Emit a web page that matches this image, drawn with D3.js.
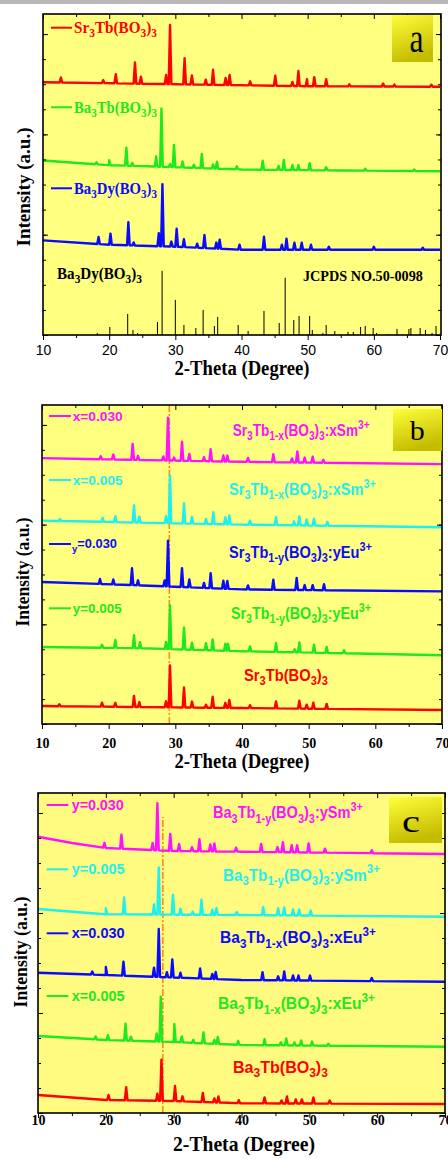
<!DOCTYPE html>
<html>
<head>
<meta charset="utf-8">
<script src="https://cdn.jsdelivr.net/npm/d3@7/dist/d3.min.js"></script>
<style>
  body { margin: 0; background: #fff; }
  svg { display: block; }
</style>
</head>
<body>
<svg id="chart" width="448" height="1159"></svg>
<script>
// ---------------- data (2-theta in degrees, intensity in a.u.) ----------------
const majorTicks = [10, 20, 30, 40, 50, 60, 70];
const minorTicks = [15, 25, 35, 45, 55, 65];
const yDomain = [0, 3200];

// panel a
const aSrTbBg = [[10, 2520], [30, 2500], [50, 2480], [70, 2475]];
const aSrTbPeaks = [[12.7, 50], [19.1, 30], [21.0, 90], [23.9, 210], [24.8, 70], [28.6, 90], [29.2, 590], [31.4, 260],
  [32.5, 90], [34.6, 50], [35.7, 150], [37.6, 70], [38.2, 100], [41.3, 40], [45.1, 100], [47.7, 40], [48.6, 150],
  [49.9, 70], [51.0, 90], [52.8, 70], [56.3, 20], [61.4, 30], [63.1, 20], [68.7, 20]];
const aBaTbBg = [[10, 1740], [20, 1693], [30, 1673], [40, 1650], [55, 1640], [70, 1633]];
const aBaTbPeaks = [[18.1, 20], [20.0, 50], [22.6, 180], [23.5, 30], [27.1, 100], [27.9, 580], [29.2, 30], [29.8, 220],
  [31.1, 60], [32.8, 30], [34.0, 140], [35.7, 40], [36.3, 70], [39.3, 30], [43.2, 90], [45.6, 40], [46.4, 100],
  [47.7, 50], [48.6, 50], [50.3, 70], [52.8, 30], [58.7, 20], [66.1, 15]];
const aBaDyBg = [[10, 943], [20, 900], [30, 880], [40, 850], [70, 850]];
const aBaDyPeaks = [[18.4, 70], [20.2, 110], [22.9, 230], [23.7, 30], [27.5, 130], [28.05, 620], [29.4, 50], [30.2, 180],
  [31.3, 80], [33.3, 40], [34.4, 130], [36.2, 60], [36.7, 90], [39.7, 50], [43.4, 130], [46.1, 50], [46.8, 110],
  [48.0, 70], [49.1, 70], [50.5, 50], [53.2, 30], [60.0, 30], [67.4, 20]];
const jcpdsSticks = [[18.2, 20], [20.1, 80], [22.8, 210], [23.6, 50], [24.3, 20], [27.3, 130], [28.0, 640], [30.0, 350],
  [31.3, 100], [33.1, 70], [34.2, 250], [35.9, 90], [36.4, 180], [39.5, 100], [41.0, 40], [43.4, 240], [45.7, 120],
  [46.6, 570], [47.9, 150], [48.7, 190], [50.3, 190], [50.7, 50], [52.3, 20], [52.8, 100], [54.1, 40], [56.1, 30],
  [56.9, 30], [58.0, 80], [58.7, 90], [59.9, 70], [60.4, 20], [62.2, 10], [63.5, 60], [65.3, 60], [65.6, 70],
  [67.0, 70], [67.8, 50], [68.8, 20], [69.4, 90]];

// panel b
const bSm030Bg = [[10, 2667], [40, 2630], [70, 2607]];
const bSm030Peaks = [[18.8, 30], [20.7, 50], [23.6, 160], [24.4, 40], [28.2, 40], [28.9, 430], [29.8, 30], [31.0, 190],
  [32.1, 70], [34.3, 40], [35.3, 120], [37.2, 60], [37.8, 60], [40.9, 40], [44.7, 80], [47.5, 40], [48.3, 110],
  [49.4, 50], [50.6, 60], [52.2, 30]];
const bSm005Bg = [[10, 2040], [40, 2000], [70, 1973]];
const bSm005Peaks = [[12.7, 20], [19.1, 40], [21.0, 60], [23.8, 170], [24.6, 60], [28.6, 70], [29.2, 480], [31.3, 200],
  [32.5, 70], [34.6, 50], [35.7, 120], [37.5, 70], [38.1, 90], [41.2, 40], [45.1, 80], [47.8, 40], [48.6, 90],
  [49.7, 60], [50.8, 70], [52.8, 40]];
const bEu030Bg = [[10, 1425], [25, 1390], [40, 1350], [70, 1330]];
const bEu030Peaks = [[18.7, 50], [20.7, 50], [23.5, 170], [24.4, 50], [28.4, 60], [28.9, 460], [31.0, 190], [32.1, 80],
  [34.3, 50], [35.3, 150], [37.2, 80], [37.8, 80], [40.9, 40], [44.7, 100], [48.2, 120], [49.4, 50], [50.6, 50],
  [52.3, 60]];
const bEu005Bg = [[10, 773], [25, 760], [40, 730], [70, 690]];
const bEu005Peaks = [[19.0, 30], [21.0, 80], [23.8, 130], [24.7, 60], [28.6, 70], [29.2, 440], [31.3, 220], [32.5, 70],
  [34.6, 70], [35.6, 110], [37.5, 70], [37.9, 70], [41.2, 50], [45.1, 90], [47.9, 30], [48.6, 100], [50.8, 80],
  [52.7, 60], [55.3, 30]];
const bHostBg = [[10, 180], [40, 160], [70, 140]];
const bHostPeaks = [[12.6, 20], [19.0, 40], [21.0, 40], [23.8, 110], [24.6, 50], [28.6, 60], [29.2, 420], [31.3, 200],
  [32.5, 60], [34.6, 30], [35.6, 110], [37.5, 50], [38.1, 80], [41.2, 30], [45.1, 70], [48.6, 80], [49.7, 40],
  [50.7, 60], [52.7, 50]];
const bRefLine = [[29.1, 0], [29.1, 3200]];

// panel c
const cSm030Bg = [[10, 2763], [15, 2700], [20, 2650], [30, 2620], [40, 2613], [70, 2590]];
const cSm030Peaks = [[19.8, 50], [22.3, 140], [26.9, 70], [27.6, 470], [29.5, 170], [30.8, 70], [32.7, 40], [33.8, 120],
  [35.4, 70], [36.0, 80], [39.2, 40], [42.9, 80], [45.3, 50], [46.1, 100], [47.4, 70], [48.2, 70], [49.9, 90],
  [52.3, 40], [59.2, 30]];
const cSm005Bg = [[10, 2040], [20, 1987], [40, 1980], [70, 1963]];
const cSm005Peaks = [[20.0, 60], [22.7, 170], [27.1, 100], [27.8, 470], [29.9, 200], [31.0, 60], [32.8, 30], [34.1, 150],
  [35.7, 50], [36.3, 70], [39.3, 30], [43.2, 80], [45.4, 70], [46.3, 80], [47.6, 60], [48.5, 60], [50.2, 50]];
const cEu030Bg = [[10, 1403], [20, 1380], [40, 1330], [70, 1313]];
const cEu030Peaks = [[18.0, 30], [20.0, 80], [22.6, 140], [27.1, 90], [27.8, 480], [29.0, 50], [29.8, 180], [31.0, 50],
  [33.9, 100], [35.7, 50], [36.2, 70], [43.1, 80], [45.4, 40], [46.3, 90], [47.6, 50], [48.4, 50], [50.1, 50],
  [59.2, 30]];
const cEu005Bg = [[10, 770], [20, 730], [30, 710], [40, 680], [70, 663]];
const cEu005Peaks = [[18.5, 30], [20.3, 50], [22.9, 170], [23.7, 40], [27.5, 80], [28.1, 450], [30.1, 180], [31.2, 60],
  [32.9, 30], [34.4, 110], [36.0, 40], [36.5, 70], [39.5, 40], [43.4, 60], [45.8, 30], [46.6, 70], [47.8, 30],
  [48.8, 50], [50.4, 40], [52.8, 20]];
const cHostBg = [[10, 180], [20, 130], [30, 120], [40, 97], [70, 90]];
const cHostPeaks = [[20.4, 50], [23.0, 130], [27.6, 70], [28.2, 410], [30.2, 150], [31.3, 50], [34.3, 90], [36.0, 40],
  [36.6, 60], [39.6, 30], [43.4, 60], [45.9, 30], [46.7, 70], [48.0, 40], [48.9, 40], [50.6, 60], [53.0, 30]];
const cRefLine = [[28.4, 0], [28.4, 2960]];

// ---------------- styles ----------------
const RED = '#ff0000', GREEN = '#1ee81e', BLUE = '#0a0aff', MAGENTA = '#ff10ff', CYAN = '#1ef0f0';
const SERIF = '"Liberation Serif", "Times New Roman", serif';
const SANS = '"Liberation Sans", Arial, sans-serif';
const PANEL_FILL = '#ffff80';

/**
 * Squeeze a text horizontally so that it is `len` px wide (the figure is narrowed)
 */
function fitWidth(text, x, y, len, rotate) {
    text.attr('x', 0).attr('y', 0);
    const natural = text.node().getComputedTextLength() || len;
    const sx = len / natural;
    text.attr('transform', `translate(${x},${y})${rotate ? ' rotate(' + rotate + ')' : ''} scale(${sx},1)`);
    return text;
}

/**
 * Append tspans for markup like "Sr_3Tb_{1-x}(BO_3)_3:xSm^{3+}"
 */
function addRichText(sel, markup, size) {
    const re = /([_^])(?:\{([^}]*)\}|(.))|([^_^]+)/g;
    let m, shift = 0;
    while ((m = re.exec(markup))) {
        if (m[4]) {
            sel.append('tspan').attr('dy', -shift).text(m[4]);
            shift = 0;
        } else {
            const s = m[1] === '_' ? size * 0.28 : -size * 0.42;
            sel.append('tspan').attr('dy', s - shift).attr('font-size', size * 0.75).text(m[2] ?? m[3]);
            shift = s;
        }
    }
}

/**
 * XrdPanel - draws one stacked XRD pattern panel
 */
class XrdPanel {
    constructor(svg, cfg) {
        this.svg = svg;
        this.cfg = cfg;
        this.g = svg.append('g').attr('class', 'panel-' + cfg.id);
        this.x = d3.scaleLinear().domain([10, 70]).range([cfg.left, cfg.right]);
        this.y = d3.scaleLinear().domain(yDomain).range([cfg.bottom, cfg.top]);
    }

    draw() {
        this.drawFrame();
        this.drawSticks();
        this.drawRefLine();
        this.drawTraces();
        this.drawAxes();
        this.drawLegend();
        this.drawTitles();
        this.drawBadge();
    }

    drawFrame() {
        const c = this.cfg;
        this.g.append('rect')
            .attr('x', c.left).attr('y', c.top)
            .attr('width', c.frameRight - c.left).attr('height', c.bottom - c.top)
            .attr('fill', c.fill || PANEL_FILL);
    }

    /**
     * Background level under a peak (straight between the listed background points)
     */
    bgAt(bg, t) {
        for (let i = 1; i < bg.length; i++) {
            if (t <= bg[i][0]) {
                const [t0, v0] = bg[i - 1], [t1, v1] = bg[i];
                return v0 + (v1 - v0) * (t - t0) / (t1 - t0);
            }
        }
        return bg[bg.length - 1][1];
    }

    tracePoints(s) {
        const w = 0.2;
        const pts = s.bg.slice();
        s.peaks.forEach(([t, h]) => {
            pts.push([t - w, this.bgAt(s.bg, t - w)]);
            pts.push([t, this.bgAt(s.bg, t) + h]);
            pts.push([t + w, this.bgAt(s.bg, t + w)]);
        });
        return pts.sort((a, b) => a[0] - b[0]);
    }

    drawTraces() {
        const line = d3.line().x(d => this.x(d[0])).y(d => this.y(d[1]));
        this.g.append('g').attr('class', 'traces')
            .selectAll('path')
            .data(this.cfg.series)
            .join('path')
            .attr('d', s => line(this.tracePoints(s)))
            .attr('fill', 'none')
            .attr('stroke', s => s.color)
            .attr('stroke-width', 2.4)
            .attr('stroke-linejoin', 'round');
    }

    drawSticks() {
        if (!this.cfg.sticks) return;
        this.g.append('g').attr('class', 'sticks')
            .selectAll('line')
            .data(this.cfg.sticks)
            .join('line')
            .attr('x1', d => this.x(d[0])).attr('x2', d => this.x(d[0]))
            .attr('y1', this.y(0)).attr('y2', d => this.y(d[1]))
            .attr('stroke', '#000').attr('stroke-width', 1);
    }

    drawRefLine() {
        if (!this.cfg.refLine) return;
        this.g.append('path')
            .attr('d', d3.line().x(d => this.x(d[0])).y(d => this.y(d[1]))(this.cfg.refLine))
            .attr('stroke', '#ff8c1a').attr('stroke-width', 1.6)
            .attr('stroke-dasharray', '7,2,2,2').attr('fill', 'none');
    }

    drawAxes() {
        const c = this.cfg;
        const ax = this.g.append('g').attr('class', 'axes');
        const yMinor = d3.range(0, 3201, 250);
        const yMajor = d3.range(0, 3201, 1000);
        const clean = sel => sel.call(s => s.select('.domain').remove())
            .selectAll('line').attr('stroke', '#000');

        const bottom = ax.append('g').attr('transform', `translate(0,${c.bottom})`)
            .call(d3.axisBottom(this.x).tickValues(majorTicks).tickSize(5).tickFormat(d3.format('d')));
        clean(bottom);
        bottom.selectAll('text')
            .attr('y', c.labelOffset).attr('dy', 0)
            .attr('font-family', c.tickFont === 'sans' ? SANS : SERIF)
            .attr('font-weight', c.tickFont === 'sans' ? 'normal' : 'bold')
            .attr('font-size', 14).attr('fill', '#000');
        clean(ax.append('g').attr('transform', `translate(0,${c.bottom})`)
            .call(d3.axisBottom(this.x).tickValues(minorTicks).tickSize(3).tickFormat('')));

        clean(ax.append('g').attr('transform', `translate(0,${c.top})`)
            .call(d3.axisTop(this.x).tickValues(majorTicks).tickSize(-5).tickFormat('')));
        clean(ax.append('g').attr('transform', `translate(0,${c.top})`)
            .call(d3.axisTop(this.x).tickValues(minorTicks).tickSize(-3).tickFormat('')));

        clean(ax.append('g').attr('transform', `translate(${c.left},0)`)
            .call(d3.axisLeft(this.y).tickValues(yMinor).tickSize(-3).tickFormat('')));
        clean(ax.append('g').attr('transform', `translate(${c.left},0)`)
            .call(d3.axisLeft(this.y).tickValues(yMajor).tickSize(-5).tickFormat('')));
        clean(ax.append('g').attr('transform', `translate(${c.frameRight},0)`)
            .call(d3.axisRight(this.y).tickValues(yMinor).tickSize(-3).tickFormat('')));
        clean(ax.append('g').attr('transform', `translate(${c.frameRight},0)`)
            .call(d3.axisRight(this.y).tickValues(yMajor).tickSize(-5).tickFormat('')));

        ax.append('rect')
            .attr('x', c.left).attr('y', c.top)
            .attr('width', c.frameRight - c.left).attr('height', c.bottom - c.top)
            .attr('fill', 'none').attr('stroke', '#000').attr('stroke-width', 1.6);
    }

    drawLegend() {
        const lg = this.g.append('g').attr('class', 'legend');
        this.cfg.legend.forEach(item => {
            if (item.line) {
                lg.append('line')
                    .attr('x1', item.line[0]).attr('x2', item.line[1])
                    .attr('y1', item.line[2]).attr('y2', item.line[2])
                    .attr('stroke', item.color).attr('stroke-width', 2);
            }
            const t = lg.append('text')
                .attr('fill', item.color)
                .attr('font-family', item.font)
                .attr('font-weight', item.weight || 'bold')
                .attr('font-size', item.size);
            addRichText(t, item.text, item.size);
            fitWidth(t, item.x, item.y, item.len);
        });
    }

    drawTitles() {
        const c = this.cfg;
        const xt = this.g.append('text')
            .attr('text-anchor', 'middle')
            .attr('font-family', SERIF).attr('font-weight', 'bold').attr('font-size', 21)
            .text('2-Theta (Degree)');
        fitWidth(xt, c.xTitle[0], c.xTitle[1], c.xTitle[2]);
        const yt = this.g.append('text')
            .attr('text-anchor', 'middle')
            .attr('font-family', SERIF).attr('font-weight', 'bold').attr('font-size', 18)
            .text('Intensity (a.u.)');
        fitWidth(yt, c.yTitle[0], c.yTitle[1], c.yTitle[2], -90);
    }

    drawBadge() {
        const b = this.cfg.badge;
        this.g.append('rect')
            .attr('x', b.x).attr('y', b.y).attr('width', b.w).attr('height', b.h)
            .attr('fill', 'url(#badgeGrad)');
        const t = this.g.append('text')
            .attr('text-anchor', 'middle')
            .attr('font-family', SERIF).attr('font-size', b.size).attr('fill', '#000')
            .text(this.cfg.id);
        fitWidth(t, b.tx, b.ty, b.tw);
    }
}

// ---------------- build ----------------
const svg = d3.select('#chart');
const defs = svg.append('defs');
const grad = defs.append('linearGradient').attr('id', 'badgeGrad')
    .attr('x1', 0).attr('y1', 0).attr('x2', 0.3).attr('y2', 1);
grad.append('stop').attr('offset', 0).attr('stop-color', '#ffff3a');
grad.append('stop').attr('offset', 1).attr('stop-color', '#c4bc00');

svg.append('rect').attr('width', 448).attr('height', 4).attr('fill', '#b8b8b8');

const panelA = {
    id: 'a', left: 43, right: 440, frameRight: 441, top: 14, bottom: 335,
    tickFont: 'sans', labelOffset: 20,
    series: [
        { bg: aSrTbBg, peaks: aSrTbPeaks, color: RED },
        { bg: aBaTbBg, peaks: aBaTbPeaks, color: GREEN },
        { bg: aBaDyBg, peaks: aBaDyPeaks, color: BLUE }
    ],
    sticks: jcpdsSticks,
    legend: [
        { line: [51, 72, 27.7], color: RED, text: 'Sr_3Tb(BO_3)_3', x: 74, y: 32.5, size: 16, font: SERIF, len: 83 },
        { line: [51, 72, 107.3], color: GREEN, text: 'Ba_3Tb(BO_3)_3', x: 74, y: 112.5, size: 16, font: SERIF, len: 83 },
        { line: [51, 72, 188.3], color: BLUE, text: 'Ba_3Dy(BO_3)_3', x: 74, y: 193.5, size: 16, font: SERIF, len: 83 },
        { color: '#000', text: 'Ba_3Dy(BO_3)_3', x: 57, y: 279, size: 16, font: SERIF, len: 85 },
        { color: '#000', text: 'JCPDS NO.50-0098', x: 303, y: 281, size: 14, font: SERIF, len: 120 }
    ],
    xTitle: [242, 375, 135], yTitle: [30, 187, 119],
    badge: { x: 392, y: 15, w: 41, h: 47, tx: 416.5, ty: 52, size: 40, tw: 14 }
};

const panelB = {
    id: 'b', left: 42, right: 442, frameRight: 442, top: 405, bottom: 724,
    tickFont: 'serif', labelOffset: 24,
    series: [
        { bg: bSm030Bg, peaks: bSm030Peaks, color: MAGENTA },
        { bg: bSm005Bg, peaks: bSm005Peaks, color: CYAN },
        { bg: bEu030Bg, peaks: bEu030Peaks, color: BLUE },
        { bg: bEu005Bg, peaks: bEu005Peaks, color: GREEN },
        { bg: bHostBg, peaks: bHostPeaks, color: RED }
    ],
    refLine: bRefLine,
    legend: [
        { line: [49, 71, 416], color: MAGENTA, text: 'x=0.030', x: 72.7, y: 420.5, size: 13, font: SANS, len: 50 },
        { color: MAGENTA, text: 'Sr_3Tb_{1-x}(BO_3)_3:xSm^{3+}', x: 232.7, y: 436, size: 16, font: SANS, len: 137 },
        { line: [49, 71, 480], color: CYAN, text: 'x=0.005', x: 72.7, y: 484.5, size: 13, font: SANS, len: 50 },
        { color: CYAN, text: 'Sr_3Tb_{1-x}(BO_3)_3:xSm^{3+}', x: 229, y: 494.5, size: 16, font: SANS, len: 147 },
        { line: [49, 71, 544], color: BLUE, text: '_{y}=0.030', x: 72, y: 548, size: 13, font: SANS, len: 45 },
        { color: BLUE, text: 'Sr_3Tb_{1-y}(BO_3)_3:yEu^{3+}', x: 229, y: 557.5, size: 16, font: SANS, len: 143 },
        { line: [49, 71, 608.3], color: GREEN, text: 'y=0.005', x: 72.7, y: 612.7, size: 13, font: SANS, len: 49 },
        { color: GREEN, text: 'Sr_3Tb_{1-y}(BO_3)_3:yEu^{3+}', x: 231, y: 619, size: 16, font: SANS, len: 140 },
        { color: RED, text: 'Sr_3Tb(BO_3)_3', x: 244, y: 680.7, size: 16, font: SANS, len: 84 }
    ],
    xTitle: [242, 768, 135], yTitle: [29, 572, 109],
    badge: { x: 393, y: 409, w: 49, h: 42, tx: 417.3, ty: 440, size: 27, tw: 15 }
};

const panelC = {
    id: 'c', left: 38, right: 445, frameRight: 445, top: 793, bottom: 1113,
    tickFont: 'serif', labelOffset: 12, fill: '#fffa80',
    series: [
        { bg: cSm030Bg, peaks: cSm030Peaks, color: MAGENTA },
        { bg: cSm005Bg, peaks: cSm005Peaks, color: CYAN },
        { bg: cEu030Bg, peaks: cEu030Peaks, color: BLUE },
        { bg: cEu005Bg, peaks: cEu005Peaks, color: GREEN },
        { bg: cHostBg, peaks: cHostPeaks, color: RED }
    ],
    refLine: cRefLine,
    legend: [
        { line: [46.7, 68.3, 805], color: MAGENTA, text: 'y=0.030', x: 71.7, y: 810, size: 14, font: SANS, len: 52 },
        { color: MAGENTA, text: 'Ba_3Tb_{1-y}(BO_3)_3:ySm^{3+}', x: 213, y: 818.3, size: 17, font: SANS, len: 150 },
        { line: [46.7, 68.3, 869.3], color: CYAN, text: 'y=0.005', x: 71.7, y: 874, size: 14, font: SANS, len: 53 },
        { color: CYAN, text: 'Ba_3Tb_{1-y}(BO_3)_3:ySm^{3+}', x: 223, y: 880.5, size: 17, font: SANS, len: 157 },
        { line: [46.7, 68.3, 933.3], color: BLUE, text: 'x=0.030', x: 71.7, y: 938, size: 14, font: SANS, len: 53 },
        { color: BLUE, text: 'Ba_3Tb_{1-x}(BO_3)_3:xEu^{3+}', x: 220, y: 943.3, size: 17, font: SANS, len: 156 },
        { line: [46.7, 68.3, 996], color: GREEN, text: 'x=0.005', x: 71.7, y: 1001, size: 14, font: SANS, len: 53 },
        { color: GREEN, text: 'Ba_3Tb_{1-x}(BO_3)_3:xEu^{3+}', x: 218, y: 1009.3, size: 17, font: SANS, len: 157 },
        { color: RED, text: 'Ba_3Tb(BO_3)_3', x: 233, y: 1072.7, size: 17, font: SANS, len: 95 }
    ],
    xTitle: [244, 1151, 142], yTitle: [27, 952, 111],
    badge: { x: 389, y: 797, w: 53, h: 46, tx: 411, ty: 831.7, size: 31, tw: 18 }
};

[panelA, panelB, panelC].forEach(cfg => new XrdPanel(svg, cfg).draw());
</script>
</body>
</html>
